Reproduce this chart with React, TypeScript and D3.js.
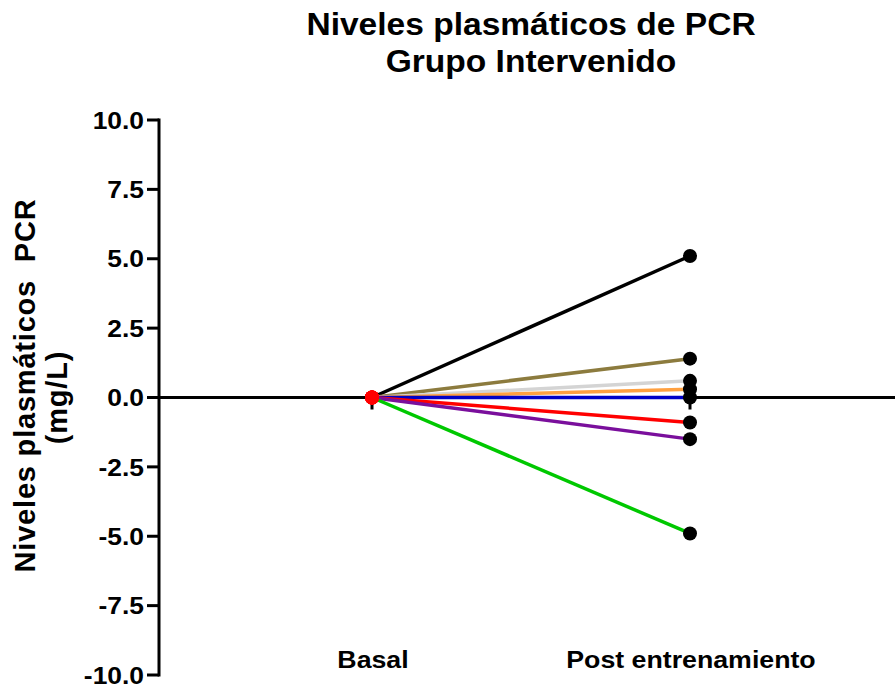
import React from 'react';
import * as d3 from 'd3';

// valores (mg/L): basal normalizado a 0, post entrenamiento = cambio
const groups = ['Basal', 'Post entrenamiento'];
const basal = [0, 0, 0, 0, 0, 0, 0, 0];
const post = [5.1, 1.4, 0.6, 0.3, 0.0, -0.9, -1.5, -4.9];
const lineColors = ['#000000', '#8c7b3e', '#d4d4d4', '#ffa040', '#0000c8', '#ff0000', '#7a0f9c', '#00c800'];
const yTicks = [10, 7.5, 5, 2.5, 0, -2.5, -5, -7.5, -10];

const W = 895;
const H = 689;
const font = '"Liberation Sans", Arial, sans-serif';
// la fuente del original es algo mas ancha que Arial
const SX = 1.1;

export default function App() {
  const y = d3.scaleLinear().domain([-10, 10]).range([675, 120]);
  const x = d3.scalePoint().domain(groups).range([372, 690]);
  const axisX = 159;

  const line = d3.line<[string, number]>()
    .x(d => x(d[0]) as number)
    .y(d => y(d[1]));

  return (
    <svg width={W} height={H} style={{ position: 'absolute', left: 0, top: 0 }} fontFamily={font}>
      {/* titulo */}
      <g transform={`translate(531, 35) scale(${SX}, 1)`}>
        <text textAnchor="middle" fontSize={30.5} fontWeight="bold">Niveles plasmáticos de PCR</text>
      </g>
      <g transform={`translate(531, 72) scale(${SX}, 1)`}>
        <text textAnchor="middle" fontSize={30.5} fontWeight="bold">Grupo Intervenido</text>
      </g>

      {/* etiqueta eje y */}
      <g transform={`translate(35, ${y(0) - 12}) rotate(-90)`}>
        <text textAnchor="middle" fontSize={29} fontWeight="bold" letterSpacing={0.8} style={{ whiteSpace: 'pre' }}>Niveles plasmáticos  PCR</text>
      </g>
      <g transform={`translate(67, ${y(0)}) rotate(-90)`}>
        <text textAnchor="middle" fontSize={29} fontWeight="bold" letterSpacing={0.8}>(mg/L)</text>
      </g>

      {/* eje y */}
      <line x1={axisX} x2={axisX} y1={y(10) - 1.5} y2={y(-10) + 1.5} stroke="#000" strokeWidth={3} />
      {yTicks.map(t => (
        <g key={t}>
          <line x1={axisX - 12} x2={axisX} y1={y(t)} y2={y(t)} stroke="#000" strokeWidth={3} />
          <g transform={`translate(${axisX - 15}, ${y(t)}) scale(${SX}, 1)`}>
            <text dy="0.36em" textAnchor="end" fontSize={24} fontWeight="bold">
              {t.toFixed(1)}
            </text>
          </g>
        </g>
      ))}

      {/* eje x en y=0 */}
      <line x1={axisX} x2={W} y1={y(0)} y2={y(0)} stroke="#000" strokeWidth={3} />
      {groups.map(g => (
        <g key={g}>
          <line x1={x(g)} x2={x(g)} y1={y(0)} y2={y(0) + 12} stroke="#000" strokeWidth={3} />
          <g transform={`translate(${(x(g) as number) + 1}, 668) scale(${SX}, 1)`}>
            <text textAnchor="middle" fontSize={24.3} fontWeight="bold">{g}</text>
          </g>
        </g>
      ))}

      {/* lineas por sujeto */}
      {post.map((v, i) => (
        <path key={i}
          d={line([[groups[0], basal[i]], [groups[1], v]]) || ''}
          fill="none" stroke={lineColors[i]} strokeWidth={3.5} />
      ))}
      {post.map((v, i) => (
        <circle key={'p' + i} cx={x(groups[1])} cy={y(v)} r={7} fill="#000" />
      ))}
      {basal.map((v, i) => (
        <circle key={'b' + i} cx={x(groups[0])} cy={y(v)} r={7} fill="#ff0000" />
      ))}
    </svg>
  );
}
